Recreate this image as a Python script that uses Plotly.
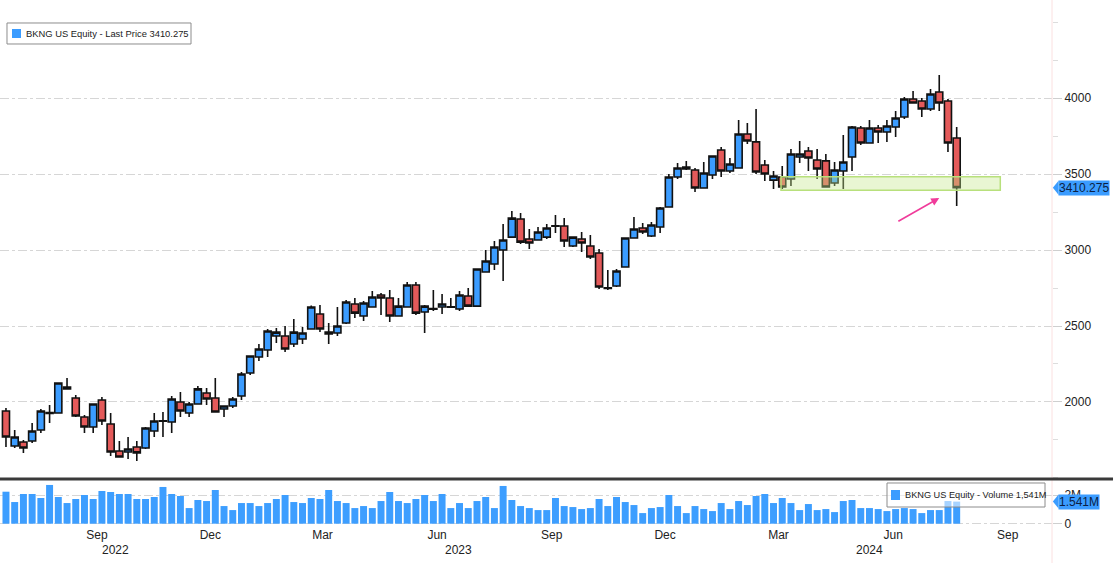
import pandas as pd
import plotly.graph_objects as go

# ---------------- data (weekly BKNG US Equity) ----------------
first_week = "2022-07-04"

open_px = [1941, 1710, 1737, 1743, 1816, 1924, 1928, 2099, 2026, 1901,
           1835, 2013, 1855, 1678, 1671, 1704, 1697, 1809, 1873, 1868,
           2000, 1928, 1987, 2059, 2026, 1954, 1974, 2039, 2191, 2296,
           2342, 2434, 2434, 2382, 2414, 2480, 2579, 2460, 2454, 2520,
           2645, 2566, 2625, 2704, 2684, 2566, 2625, 2770, 2592, 2615,
           2625, 2623, 2612, 2697, 2631, 2855, 2908, 3000, 3085, 3204,
           3072, 3066, 3085, 3156, 3158, 3026, 3072, 3026, 2980, 2752,
           2763, 2888, 3079, 3145, 3092, 3151, 3283, 3480, 3533, 3526,
           3408, 3493, 3658, 3520, 3539, 3763, 3711, 3559, 3460, 3480,
           3467, 3612, 3651, 3592, 3586, 3441, 3520, 3612, 3803, 3704,
           3803, 3776, 3809, 3875, 3993, 3980, 3928, 4039, 3980, 3737]

high_px = [1961, 1816, 1750, 1862, 1954, 1980, 2130, 2158, 2046, 1914,
           1990, 2033, 1928, 1743, 1770, 1743, 1835, 1928, 1934, 2039,
           2066, 2000, 2105, 2092, 2158, 1978, 2033, 2197, 2305, 2382,
           2480, 2487, 2500, 2546, 2493, 2635, 2638, 2520, 2625, 2671,
           2684, 2664, 2730, 2717, 2737, 2684, 2789, 2789, 2638, 2737,
           2710, 2684, 2730, 2750, 2878, 3000, 3059, 3171, 3257, 3243,
           3138, 3151, 3171, 3230, 3210, 3088, 3118, 3099, 3007, 2868,
           2875, 3082, 3217, 3178, 3184, 3283, 3500, 3572, 3586, 3539,
           3579, 3621, 3678, 3605, 3855, 3835, 3928, 3592, 3520, 3553,
           3664, 3717, 3678, 3664, 3632, 3579, 3757, 3816, 3816, 3855,
           3822, 3855, 3914, 4006, 4046, 4000, 4059, 4151, 3993, 3809]

low_px = [1704, 1697, 1665, 1730, 1796, 1862, 1926, 2080, 1901, 1796,
          1796, 1849, 1645, 1635, 1625, 1612, 1690, 1770, 1770, 1796,
          1901, 1901, 1985, 1980, 1930, 1901, 1961, 2013, 2178, 2270,
          2296, 2388, 2329, 2362, 2382, 2478, 2460, 2382, 2434, 2513,
          2552, 2533, 2622, 2572, 2526, 2563, 2622, 2572, 2454, 2599,
          2579, 2618, 2599, 2625, 2628, 2853, 2868, 2796, 3083, 3039,
          3007, 3063, 3072, 3112, 3020, 3020, 2987, 2941, 2743, 2737,
          2757, 2885, 3076, 3105, 3085, 3112, 3280, 3467, 3526, 3382,
          3405, 3467, 3480, 3507, 3536, 3697, 3500, 3454, 3401, 3401,
          3421, 3572, 3520, 3467, 3411, 3421, 3401, 3520, 3691, 3701,
          3704, 3711, 3743, 3862, 3964, 3875, 3914, 3914, 3645, 3290]

close_px = [1770, 1770, 1697, 1809, 1941, 1930, 2125, 2086, 1908, 1835,
            1987, 1875, 1671, 1638, 1691, 1665, 1829, 1875, 1877, 2020,
            1941, 1987, 2086, 2020, 1934, 1974, 2020, 2184, 2303, 2349,
            2467, 2460, 2349, 2460, 2454, 2625, 2480, 2447, 2500, 2658,
            2585, 2651, 2691, 2684, 2566, 2631, 2770, 2585, 2631, 2610,
            2645, 2627, 2704, 2631, 2875, 2928, 3020, 3066, 3210, 3052,
            3046, 3118, 3145, 3160, 3059, 3085, 3046, 2954, 2757, 2747,
            2862, 3079, 3138, 3118, 3164, 3276, 3480, 3539, 3546, 3408,
            3507, 3618, 3520, 3566, 3763, 3717, 3513, 3500, 3487, 3414,
            3632, 3632, 3605, 3533, 3414, 3526, 3579, 3809, 3704, 3803,
            3776, 3816, 3868, 3993, 3967, 3928, 4026, 3967, 3704, 3410.275]

volume_m = [2.23, 1.51, 2.07, 2.07, 1.79, 2.70, 1.86, 1.44, 1.72, 2.00,
            1.72, 2.28, 2.21, 2.07, 2.07, 1.72, 1.72, 1.86, 2.56, 2.07,
            1.93, 1.09, 1.65, 1.58, 2.35, 1.23, 0.95, 1.44, 1.44, 1.23,
            1.44, 1.72, 2.00, 1.51, 1.44, 1.79, 1.72, 2.35, 1.58, 1.44,
            1.09, 1.23, 1.09, 1.58, 2.21, 1.58, 1.44, 1.72, 2.00, 1.58,
            2.07, 1.09, 1.44, 1.09, 1.58, 1.86, 1.09, 2.63, 1.65, 1.23,
            1.09, 0.95, 0.95, 1.79, 1.23, 1.16, 1.02, 1.09, 1.72, 1.23,
            1.86, 1.51, 1.30, 0.74, 1.09, 1.16, 2.00, 1.23, 0.74, 1.23,
            1.02, 0.88, 1.44, 1.02, 1.58, 1.30, 1.93, 2.07, 1.44, 1.79,
            1.44, 0.95, 1.37, 0.95, 1.02, 0.81, 1.58, 1.65, 1.09, 1.09,
            1.02, 0.88, 1.02, 1.09, 1.02, 0.74, 0.95, 0.95, 1.58, 1.541]

month_ticks = ["2022-09-15", "2022-12-15", "2023-03-15", "2023-06-15", "2023-09-15",
               "2023-12-15", "2024-03-15", "2024-06-15", "2024-09-15"]
month_labels = ["Sep", "Dec", "Mar", "Jun", "Sep", "Dec", "Mar", "Jun", "Sep"]
years = ["2022", "2023", "2024"]
price_ticks = [2000, 2500, 3000, 3500, 4000]

# support zone and annotation arrow (data coordinates)
zone_start, zone_end = "2024-03-17", "2024-09-09"
zone_low, zone_high = 3393, 3482
arrow_tail = ("2024-06-18", 3184)
arrow_tip = ("2024-07-22", 3342)

x_range = ["2022-06-29 05:00", "2024-10-20 12:00"]

# ---------------- styling ----------------
BLUE = "#3b9cff"
RED = "#e45a5a"
VBLUE = "#3d9eff"
GRID = "#d6d6d6"
FONT = "Liberation Sans"

weeks = pd.date_range(first_week, periods=len(close_px), freq="7D")
last_close = close_px[-1]
last_vol = volume_m[-1]

fig = go.Figure()
fig.add_trace(go.Candlestick(
    x=weeks, open=open_px, high=high_px, low=low_px, close=close_px,
    increasing=dict(fillcolor=BLUE, line=dict(color="#111111", width=1.6)),
    decreasing=dict(fillcolor=RED, line=dict(color="#111111", width=1.6)),
    whiskerwidth=0, xaxis="x", yaxis="y", showlegend=False, name="BKNG"))
fig.add_trace(go.Bar(
    x=weeks, y=volume_m, marker=dict(color=VBLUE, line=dict(width=0)),
    xaxis="x2", yaxis="y2", showlegend=False, name="Volume"))

# plot area: 18 px top margin, 37 px bottom margin -> 508 px tall
price_dom = [0.0945, 1.0]
vol_dom = [0.0, 0.0886]

fig.update_layout(
    width=1118, height=563,
    margin=dict(l=0, r=66, t=18, b=37),
    paper_bgcolor="white", plot_bgcolor="white",
    font=dict(family=FONT, size=12, color="#222222"),
    boxgap=0.1, boxgroupgap=0.1, bargap=0.2,
    xaxis=dict(type="date", domain=[0, 1], anchor="y", range=x_range,
               showticklabels=False, showgrid=False, zeroline=False,
               rangeslider=dict(visible=False), showline=False),
    xaxis2=dict(type="date", domain=[0, 1], anchor="y2", matches="x", range=x_range,
                tickvals=month_ticks, ticktext=month_labels, ticks="",
                showgrid=False, zeroline=False, showline=False,
                tickfont=dict(family=FONT, size=12, color="#222222")),
    yaxis=dict(domain=price_dom, anchor="x", side="right", range=[1500, 4526.3],
               tickvals=price_ticks, showgrid=True, gridcolor=GRID, griddash="dashdot",
               gridwidth=1, ticks="outside", ticklen=9, tickcolor="#cfcfcf",
               zeroline=False, showline=False,
               minor=dict(dtick=250, tick0=0, ticks="outside", ticklen=5,
                          tickcolor="#dddddd", showgrid=False),
               tickfont=dict(family=FONT, size=12, color="#222222")),
    yaxis2=dict(domain=vol_dom, anchor="x2", side="right", range=[-0.16, 2.976],
                tickvals=[0, 2], ticktext=["0", "2M"], showgrid=True, gridcolor=GRID,
                griddash="dashdot", ticks="outside", ticklen=9, tickcolor="#cfcfcf",
                zeroline=False, showline=False,
                tickfont=dict(family=FONT, size=12, color="#222222")),
    hovermode=False,
)

shapes = []
# right axis rule
shapes.append(dict(type="line", xref="paper", yref="paper", x0=1.0, x1=1.0,
                   y0=-0.075, y1=1.04, line=dict(color="#fbe0e0", width=1)))
# separator between price and volume panels
shapes.append(dict(type="line", xref="paper", yref="paper", x0=0, x1=1.058,
                   y0=0.0925, y1=0.0925, line=dict(color="#3a3a3a", width=3)))
# support zone
shapes.append(dict(type="rect", xref="x", yref="y", x0=zone_start, x1=zone_end,
                   y0=zone_low, y1=zone_high, layer="above",
                   fillcolor="rgba(196,232,140,0.38)",
                   line=dict(color="#b8e07c", width=1.5)))
# tag pointers (left-pointing triangles)
ph = 46.0   # half-height of price tag pointer (price units)
vh = 0.49   # half-height of volume tag pointer (millions)
shapes.append(dict(type="path", xref="paper", yref="y", layer="above",
                   path=f"M 1.0008,{last_close} L 1.0062,{last_close + ph} "
                        f"L 1.0062,{last_close - ph} Z",
                   fillcolor=BLUE, line=dict(color=BLUE, width=0)))
shapes.append(dict(type="path", xref="paper", yref="y2", layer="above",
                   path=f"M 1.0008,{last_vol} L 1.0062,{last_vol + vh} "
                        f"L 1.0062,{last_vol - vh} Z",
                   fillcolor=BLUE, line=dict(color=BLUE, width=0)))
# legend boxes with colour squares
shapes.append(dict(type="rect", xref="paper", yref="paper", layer="above",
                   x0=0.00665, x1=0.18156, y0=0.94882, y1=0.99016,
                   fillcolor="white", line=dict(color="#8c8c8c", width=1)))
shapes.append(dict(type="rect", xref="paper", yref="paper", layer="above",
                   x0=0.01141, x1=0.01996, y0=0.96063, y1=0.97835,
                   fillcolor=BLUE, line=dict(width=0)))
shapes.append(dict(type="rect", xref="paper", yref="paper", layer="above",
                   x0=0.84316, x1=0.99335, y0=0.0374, y1=0.08465,
                   fillcolor="rgba(255,255,255,0.55)", line=dict(color="#8c8c8c", width=1)))
shapes.append(dict(type="rect", xref="paper", yref="paper", layer="above",
                   x0=0.84696, x1=0.85551, y0=0.05118, y1=0.07087,
                   fillcolor=BLUE, line=dict(width=0)))
fig.update_layout(shapes=shapes)

annotations = []
annotations.append(dict(
    xref="paper", yref="paper", x=0.0228, y=0.9695, xanchor="left", yanchor="middle",
    text=f"BKNG US Equity - Last Price {last_close:.3f}", showarrow=False,
    font=dict(family=FONT, size=9.4, color="#222222")))
annotations.append(dict(
    xref="paper", yref="paper", x=0.8585, y=0.061, xanchor="left", yanchor="middle",
    text=f"BKNG US Equity - Volume {last_vol:.3f}M".replace("1.541M", "1,541M"),
    showarrow=False,
    font=dict(family=FONT, size=9.2, color="#222222")))
# value tags on the right axis
annotations.append(dict(
    xref="paper", yref="y", x=1.0058, y=last_close, xanchor="left", yanchor="middle",
    text=f"{last_close:.3f}", showarrow=False, bgcolor=BLUE, borderpad=0,
    font=dict(family=FONT, size=12, color="#0b1f44")))
annotations.append(dict(
    xref="paper", yref="y2", x=1.0058, y=last_vol, xanchor="left", yanchor="middle",
    text=f"{last_vol:.3f}M", showarrow=False, bgcolor=BLUE, borderpad=0,
    font=dict(family=FONT, size=12, color="#0b1f44")))
# pink arrow
annotations.append(dict(
    xref="x", yref="y", x=arrow_tip[0], y=arrow_tip[1],
    axref="x", ayref="y", ax=arrow_tail[0], ay=arrow_tail[1],
    showarrow=True, arrowhead=2, arrowsize=1, arrowwidth=1.6, arrowcolor="#f03c9b",
    text=""))
# year labels centred on visible portion of each year
x0 = pd.Timestamp(x_range[0])
x1 = pd.Timestamp(x_range[1])
for yr in years:
    a = max(pd.Timestamp(f"{yr}-01-01"), x0)
    b = min(pd.Timestamp(f"{int(yr) + 1}-01-01"), x1)
    mid = a + (b - a) / 2
    annotations.append(dict(xref="x", yref="paper", x=mid, y=-0.047,
                            xanchor="center", yanchor="middle", text=yr,
                            showarrow=False,
                            font=dict(family=FONT, size=12, color="#222222")))
fig.update_layout(annotations=annotations)

fig.write_html("out.html")
